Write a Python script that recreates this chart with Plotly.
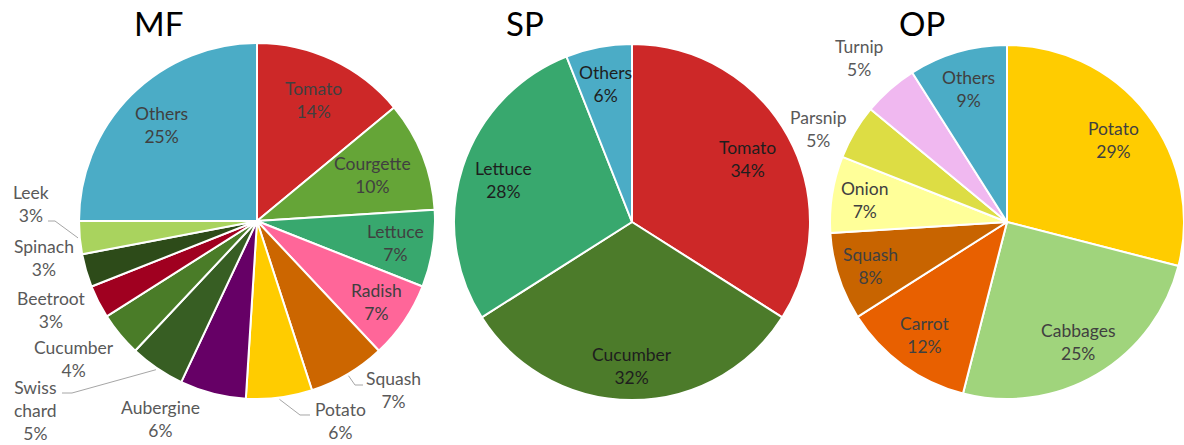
import math
import plotly.graph_objects as go

W, H = 1184, 445

# ---------------- data ----------------
mf_labels = ["Tomato", "Courgette", "Lettuce", "Radish", "Squash", "Potato", "Aubergine",
             "Swiss chard", "Cucumber", "Beetroot", "Spinach", "Leek", "Others"]
mf_values = [14, 10, 7, 7, 7, 6, 6, 5, 4, 3, 3, 3, 25]
mf_colors = ["#CD2828", "#65A537", "#38A86E", "#FF6699", "#CC6600", "#FFCC00", "#660066",
             "#375E23", "#4A7C28", "#A00020", "#2D4B19", "#A9D35E", "#4BACC6"]

sp_labels = ["Tomato", "Cucumber", "Lettuce", "Others"]
sp_values = [34, 32, 28, 6]
sp_colors = ["#CD2828", "#4C7B2A", "#38A86E", "#4BACC6"]

op_labels = ["Potato", "Cabbages", "Carrot", "Squash", "Onion", "Parsnip", "Turnip", "Others"]
op_values = [29, 25, 12, 8, 7, 5, 5, 9]
op_colors = ["#FFCC00", "#A0D47C", "#E86000", "#C86400", "#FFFF99", "#DDDD44", "#F0B8F0", "#4BACC6"]

titles = ["MF", "SP", "OP"]

FONT = "Lato"
FS = 17.5

# ---------------- geometry (pixels, layout only) ----------------
pies = [
    dict(labels=mf_labels, values=mf_values, colors=mf_colors, c=(257, 221), R=178, col="#404040"),
    dict(labels=sp_labels, values=sp_values, colors=sp_colors, c=(632, 222), R=178, col="#1E1E1E"),
    dict(labels=op_labels, values=op_values, colors=op_colors, c=(1007, 222), R=177, col="#404040"),
]

# radial position (fraction of R) of inside labels
inside_r = {
    0: {"Tomato": 0.75, "Courgette": 0.70, "Lettuce": 0.79, "Radish": 0.81, "Others": 0.76},
    1: {"Tomato": 0.74, "Cucumber": 0.81, "Lettuce": 0.76, "Others": 0.79},
    2: {"Potato": 0.76, "Cabbages": 0.79, "Carrot": 0.79, "Squash": 0.81, "Onion": 0.81, "Others": 0.78},
}
# outside labels: display name, centre x, centre y (pixels)
outside_pos = {
    0: {
        "Squash": ("Squash", 393, 390),
        "Potato": ("Potato", 340, 421),
        "Aubergine": ("Aubergine", 160, 419),
        "Swiss chard": ("Swiss<br>chard", 35, 410),
        "Cucumber": ("Cucumber", 74, 359),
        "Beetroot": ("Beetroot", 51, 310),
        "Spinach": ("Spinach", 44, 258),
        "Leek": ("Leek", 31, 204),
    },
    2: {
        "Parsnip": ("Parsnip", 818, 129),
        "Turnip": ("Turnip", 859, 58),
    },
}
leaders = {
    0: [("Squash", [(355, 385), (363, 385)]),
        ("Potato", [(300, 415), (310, 415)]),
        ("Swiss chard", [(72, 393), (62, 393)]),
        ("Leek", [(55, 221), (48, 221)])],
}
title_pos = [(158, 23), (525, 23), (922, 23)]


def px(x):
    return x / W


def py(y):
    return 1 - y / H


fig = go.Figure()

for p in pies:
    cx, cy = p["c"]
    R = p["R"]
    fig.add_trace(go.Pie(
        labels=p["labels"], values=p["values"], sort=False, direction="clockwise", rotation=0,
        marker=dict(colors=p["colors"], line=dict(color="white", width=2)),
        textinfo="none", hoverinfo="label+percent", showlegend=False,
        domain=dict(x=[px(cx - R), px(cx + R)], y=[py(cy + R), py(cy - R)]),
    ))


def mid_angle(labels, values, name):
    tot = sum(values)
    cum = 0
    for l, v in zip(labels, values):
        if l == name:
            return 2 * math.pi * (cum + v / 2) / tot
        cum += v


def pct(labels, values, name):
    return round(100 * values[labels.index(name)] / sum(values))


for i, p in enumerate(pies):
    cx, cy = p["c"]
    R = p["R"]
    labels, values = p["labels"], p["values"]
    for name, f in inside_r.get(i, {}).items():
        th = mid_angle(labels, values, name)
        x = cx + f * R * math.sin(th)
        y = cy - f * R * math.cos(th)
        fig.add_annotation(x=px(x), y=py(y), xref="paper", yref="paper",
                           text=f"{name}<br>{pct(labels, values, name)}%",
                           showarrow=False, align="center",
                           font=dict(family=FONT, size=FS, color=p["col"]),
                           xanchor="center", yanchor="middle")
    for name, (txt, x, y) in outside_pos.get(i, {}).items():
        fig.add_annotation(x=px(x), y=py(y), xref="paper", yref="paper",
                           text=f"{txt}<br>{pct(labels, values, name)}%",
                           showarrow=False, align="center",
                           font=dict(family=FONT, size=FS, color="#595959"),
                           xanchor="center", yanchor="middle")
    for name, pts in leaders.get(i, []):
        th = mid_angle(labels, values, name)
        sx = cx + 1.01 * R * math.sin(th)
        sy = cy - 1.01 * R * math.cos(th)
        allp = [(sx, sy)] + pts
        path = "M " + " L ".join(f"{px(a):.5f},{py(b):.5f}" for a, b in allp)
        fig.add_shape(type="path", path=path, xref="paper", yref="paper",
                      line=dict(color="#A6A6A6", width=1))

for t, (tx, ty) in zip(titles, title_pos):
    fig.add_annotation(x=px(tx), y=py(ty), xref="paper", yref="paper", text=t,
                       showarrow=False, font=dict(family=FONT, size=33, color="black"),
                       xanchor="center", yanchor="middle")

fig.update_layout(width=W, height=H, margin=dict(l=0, r=0, t=0, b=0),
                  paper_bgcolor="white", plot_bgcolor="white")
fig.write_html("out.html", config={"displayModeBar": False},
               post_script="document.body.style.margin='0';document.body.style.overflow='hidden';")
